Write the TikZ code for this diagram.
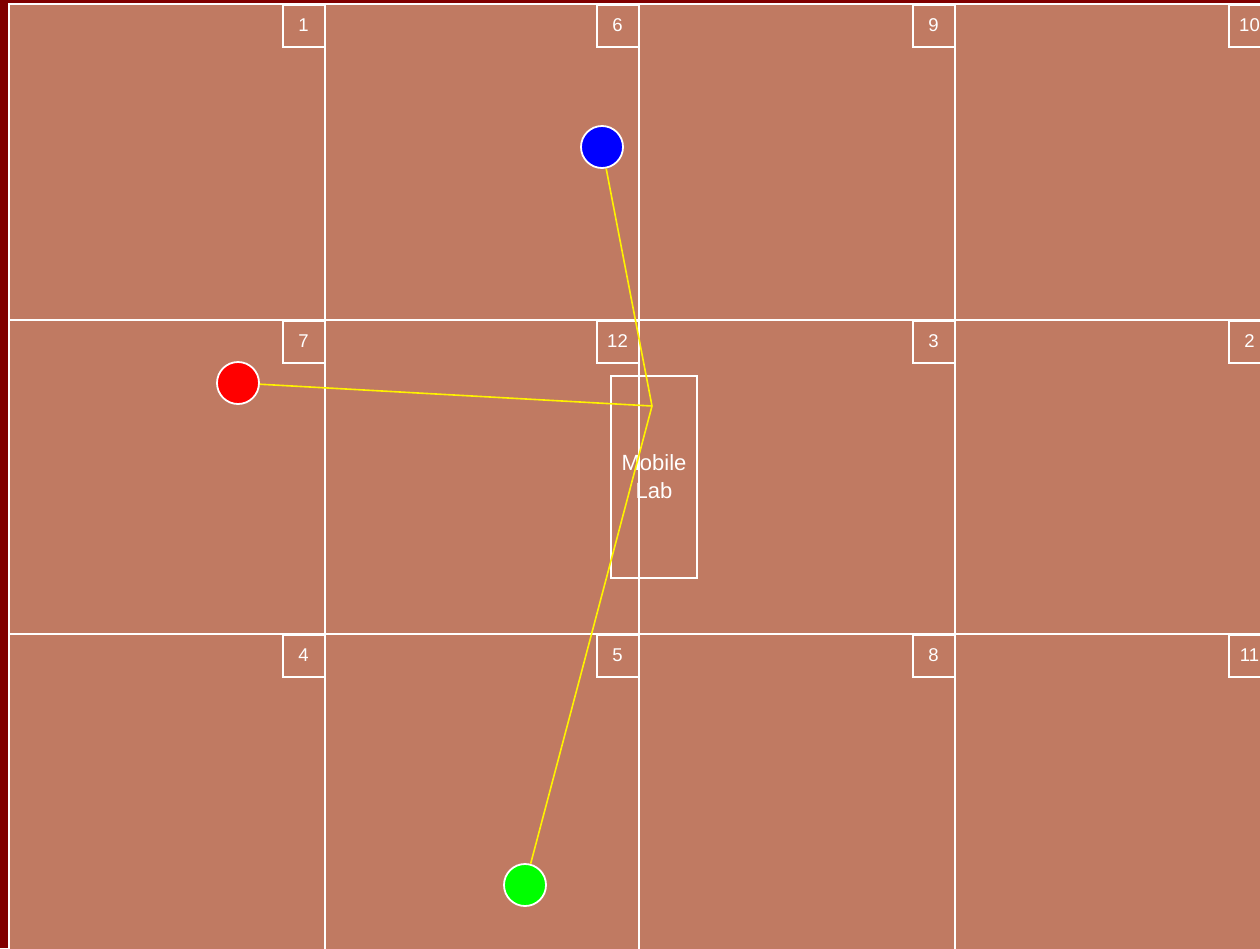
\documentclass[tikz,border=0pt]{standalone}
\usepackage{fontspec}
\setmainfont{Liberation Sans}
\definecolor{floor}{RGB}{192,122,98}
\definecolor{frame}{RGB}{128,0,0}

\begin{document}
\begin{tikzpicture}[x=1pt, y=-1pt,
        cell/.style={draw=white, line width=2pt},
        tag/.style={rectangle, draw=white, line width=2pt, minimum width=42pt, minimum height=42pt, inner sep=0pt, text=white, font=\fontsize{18.5}{20}\selectfont},
        lab/.style={rectangle, draw=white, line width=1.8pt, minimum width=86pt, minimum height=202pt, inner sep=0pt, text=white, align=center, font=\fontsize{22}{28}\selectfont},
        site/.style={circle, draw=white, line width=1.8pt, minimum size=42pt, inner sep=0pt},
        link/.style={yellow, line width=1.6pt}
    ]
        \useasboundingbox (0,0) rectangle (1260,948);
        \clip (0,0) rectangle (1260,948);

        % Floor
        \fill[frame] (0,0) rectangle (1260,948);
        \fill[floor] (9,4) rectangle (1290,980);

        % Cells and their numbers
        \foreach \xa/\xb/\ya/\yb/\n in {9/325/4/320/1, 325/639/4/320/6, 639/955/4/320/9, 955/1271/4/320/10,
                                        9/325/320/634/7, 325/639/320/634/12, 639/955/320/634/3, 955/1271/320/634/2,
                                        9/325/634/960/4, 325/639/634/960/5, 639/955/634/960/8, 955/1271/634/960/11} {
            \draw[cell] (\xa,\ya) rectangle (\xb,\yb);
            \node (t\n) [tag, anchor=north east] at (\xb+0.5,\ya-0.5) {\n};
        }

        % Nodes
        \node (lab) [lab] at (654,477) {Mobile\\Lab};
        \coordinate (hub) at (652,406);
        \node (red) [site, fill=red] at (238,383) {};
        \node (blue) [site, fill=blue] at (602,147) {};
        \node (green) [site, fill=green] at (525,885) {};

        % Links
        \draw [link] (red) -- (hub);
        \draw [link] (blue) -- (hub);
        \draw [link] (green) -- (hub);
    \end{tikzpicture}
\end{document}
